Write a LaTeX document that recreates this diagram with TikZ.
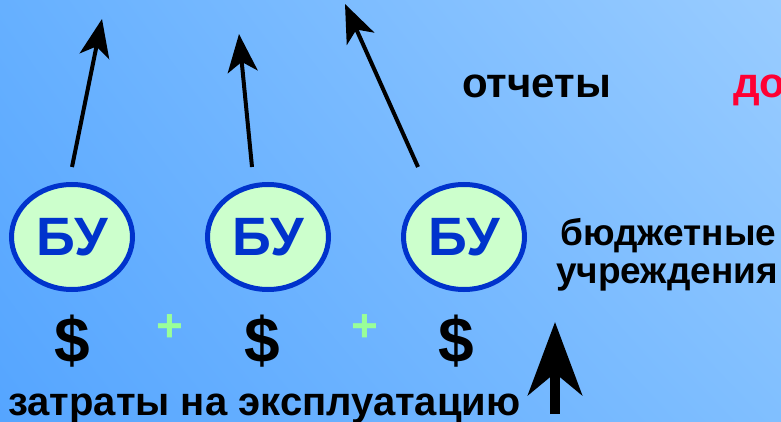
\documentclass[tikz,border=0pt]{standalone}
\usepackage{fontspec}
\setmainfont{Liberation Sans}
\usetikzlibrary{shapes.geometric,arrows.meta,shadings}
\definecolor{bgTL}{HTML}{66B0FF}
\definecolor{bgTR}{HTML}{99CCFF}
\definecolor{bgBL}{HTML}{55A5FF}
\definecolor{bgBR}{HTML}{80BFFF}
\definecolor{ellfill}{HTML}{CCFFCC}
\definecolor{ellblue}{HTML}{0033CC}
\definecolor{plusgreen}{HTML}{99FF99}
\definecolor{redtxt}{HTML}{FF0033}
\tikzset{
  bu/.style={ellipse, draw=ellblue, line width=5pt, fill=ellfill,
    minimum width=121pt, minimum height=105pt, inner sep=0pt,
    text=ellblue, font=\bfseries\fontsize{54}{54}\selectfont},
  uparrow/.style={line width=4pt, -{Stealth[length=38pt,width=30pt,inset=10pt]}},
  bigarrow/.style={line width=10pt, -{Stealth[length=73pt,width=54pt,inset=22pt]}},
  lbl/.style={anchor=base west, inner sep=0pt, font=\bfseries\fontsize{37}{37}\selectfont},
  dollar/.style={anchor=base, inner sep=0pt, font=\bfseries\fontsize{64}{64}\selectfont},
  plus/.style={inner sep=0pt, text=plusgreen, font=\bfseries\fontsize{46}{46}\selectfont}
}
\begin{document}
\begin{tikzpicture}[x=1pt,y=-1pt]
\useasboundingbox (0,0) rectangle (781,422);
\shade[upper left=bgTL, upper right=bgTR, lower left=bgBL, lower right=bgBR] (0,0) rectangle (781,422);
% ellipses
\node[bu] (b1) at (72,237) {БУ};
\node[bu] (b2) at (268,237) {БУ};
\node[bu] (b3) at (464,237) {БУ};
% arrow tips
\coordinate (t1) at (102,19);
\coordinate (t2) at (239,34);
\coordinate (t3) at (345,4);
\draw[uparrow] ([yshift=15pt]b1.north) -- (t1);
\draw[uparrow] ([xshift=-16pt,yshift=15pt]b2.north) -- (t2);
\draw[uparrow] ([xshift=-46pt,yshift=15pt]b3.north) -- (t3);
% labels
\node[lbl, font=\bfseries\fontsize{42}{42}\selectfont] (otch) at (462,98) {отчеты};
\node[lbl, text=redtxt, font=\bfseries\fontsize{42}{42}\selectfont] (do) at (733,98) {до};
\node[lbl] (bud1) at (560,245) {бюджетные};
\node[lbl] (bud2) at (556,283) {учреждения};
% dollars and pluses
\node[dollar] (d1) at (72,362) {\$};
\node[dollar] (d2) at (262,362) {\$};
\node[dollar] (d3) at (456,362) {\$};
\node[plus] (p1) at (170,328) {+};
\node[plus] (p2) at (365,328) {+};
% bottom text
\node[lbl, font=\bfseries\fontsize{40}{40}\selectfont] (zat) at (8,415) {затраты на эксплуатацию};
% big arrow
\coordinate (ba0) at (555,414);
\coordinate (ba1) at (555,322);
\draw[bigarrow] (ba0) -- (ba1);
\end{tikzpicture}
\end{document}
